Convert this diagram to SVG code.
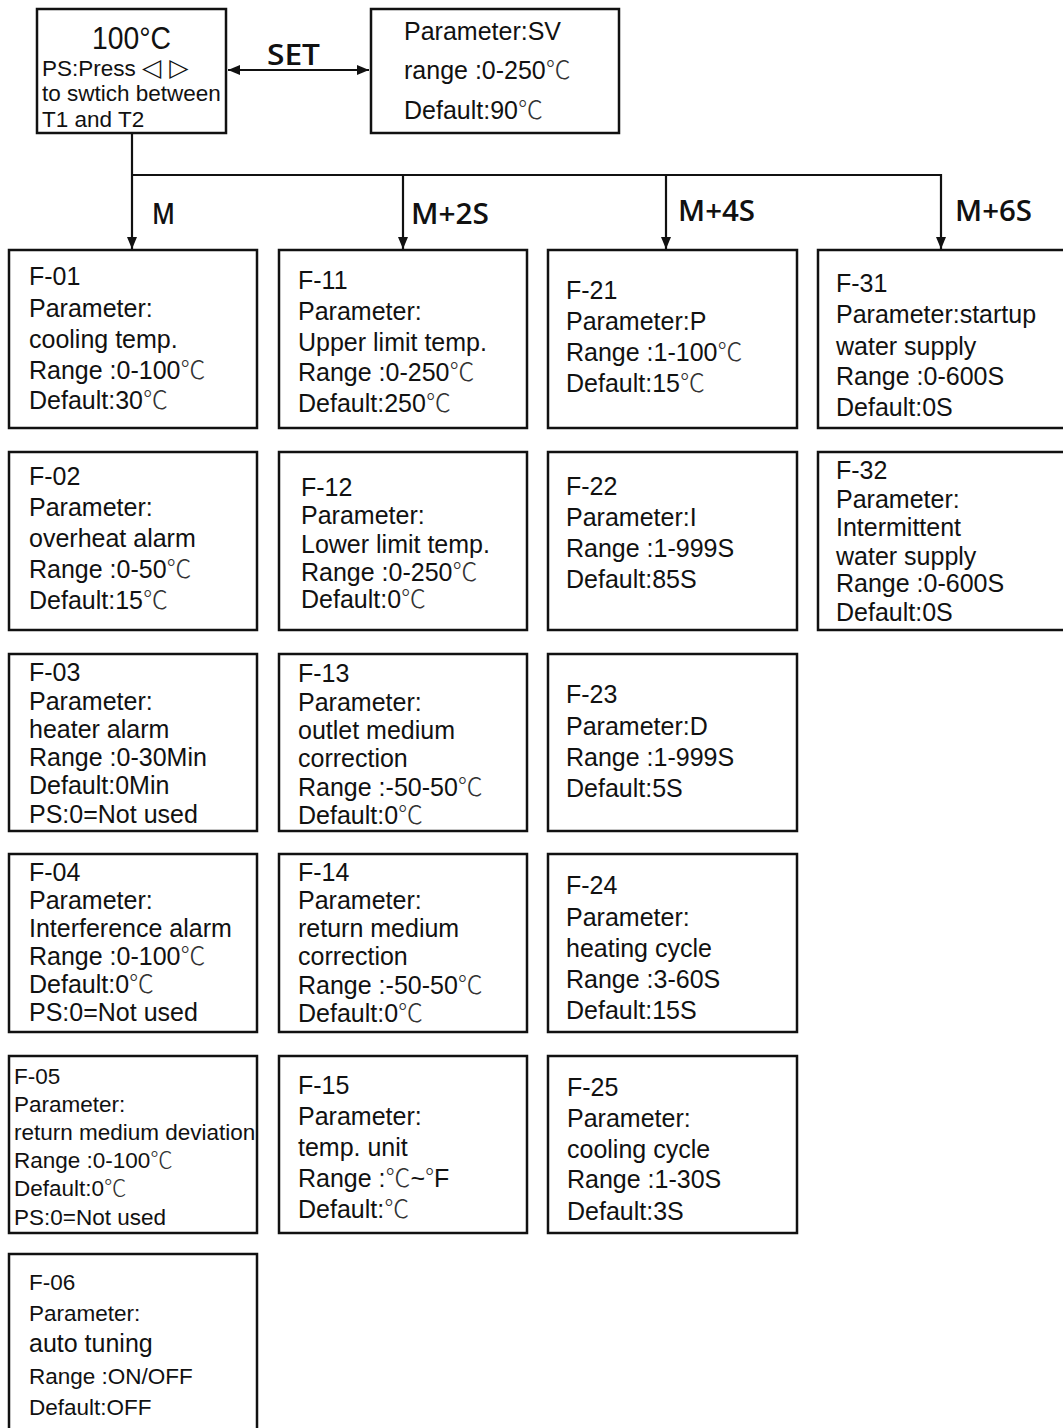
<svg xmlns="http://www.w3.org/2000/svg" width="1063" height="1428" viewBox="0 0 1063 1428">
<style>
.box{fill:#fff;stroke:#111;stroke-width:2.5}
.t{font-family:"Liberation Sans",Arial,sans-serif;font-size:25px;fill:#111}
.s{font-size:22.5px}
.c{font-family:"Noto Sans CJK SC","Liberation Sans",sans-serif;font-weight:300;fill:#333}
.lbl{font-family:"Open Sans","Noto Sans",sans-serif;font-size:29px;font-weight:600;fill:#111}
.ln{fill:none;stroke:#111;stroke-width:2.2}
</style>
<defs>
<marker id="ah" viewBox="0 0 12 10" refX="12" refY="5" markerWidth="12" markerHeight="10" markerUnits="userSpaceOnUse" orient="auto-start-reverse">
<path d="M0,0 L12,5 L0,10 z" fill="#111"/>
</marker>
</defs>
<rect width="1063" height="1428" fill="#fff"/>

<g id="connectors">
<line class="ln" x1="228" y1="70" x2="369" y2="70" marker-start="url(#ah)" marker-end="url(#ah)"/>
<polyline class="ln" points="132,133 132,249" marker-end="url(#ah)"/>
<polyline class="ln" points="132,175 941,175 941,249" marker-end="url(#ah)"/>
<line class="ln" x1="403" y1="175" x2="403" y2="249" marker-end="url(#ah)"/>
<line class="ln" x1="666" y1="175" x2="666" y2="249" marker-end="url(#ah)"/>
<text class="lbl" x="267" y="65" textLength="53" lengthAdjust="spacingAndGlyphs">SET</text>
<text class="lbl" x="152" y="224" textLength="23" lengthAdjust="spacingAndGlyphs">M</text>
<text class="lbl" x="411" y="224" textLength="78" lengthAdjust="spacingAndGlyphs">M+2S</text>
<text class="lbl" x="678" y="221" textLength="77" lengthAdjust="spacingAndGlyphs">M+4S</text>
<text class="lbl" x="955" y="221" textLength="77" lengthAdjust="spacingAndGlyphs">M+6S</text>
</g>

<g id="display">
<rect class="box" x="37" y="9" width="189" height="124"/>
<text class="t" x="92" y="49" style="font-size:31px" textLength="79" lengthAdjust="spacingAndGlyphs">100°C</text>
<text class="t s"><tspan x="42" y="76">PS:Press <tspan style="font-family:'DejaVu Sans';font-size:25px">◁ ▷</tspan></tspan><tspan x="42" y="101">to swtich between</tspan><tspan x="42" y="127">T1 and T2</tspan></text>
</g>

<g id="sv">
<rect class="box" x="371" y="9" width="248" height="124"/>
<text class="t"><tspan x="404" y="40">Parameter:SV</tspan><tspan x="404" y="79">range :0-250<tspan class="c">℃</tspan></tspan><tspan x="404" y="119">Default:90<tspan class="c">℃</tspan></tspan></text>
</g>

<g id="F-01">
<rect class="box" x="9" y="250" width="248" height="178"/>
<text class="t"><tspan x="29" y="285">F-01</tspan><tspan x="29" y="317">Parameter:</tspan><tspan x="29" y="348">cooling temp.</tspan><tspan x="29" y="379">Range :0-100<tspan class="c">℃</tspan></tspan><tspan x="29" y="409">Default:30<tspan class="c">℃</tspan></tspan></text>
</g>
<g id="F-11">
<rect class="box" x="279" y="250" width="248" height="178"/>
<text class="t"><tspan x="298" y="289">F-11</tspan><tspan x="298" y="320">Parameter:</tspan><tspan x="298" y="351">Upper limit temp.</tspan><tspan x="298" y="381">Range :0-250<tspan class="c">℃</tspan></tspan><tspan x="298" y="412">Default:250<tspan class="c">℃</tspan></tspan></text>
</g>
<g id="F-21">
<rect class="box" x="548" y="250" width="249" height="178"/>
<text class="t"><tspan x="566" y="299">F-21</tspan><tspan x="566" y="330">Parameter:P</tspan><tspan x="566" y="361">Range :1-100<tspan class="c">℃</tspan></tspan><tspan x="566" y="392">Default:15<tspan class="c">℃</tspan></tspan></text>
</g>
<g id="F-31">
<rect class="box" x="818" y="250" width="252" height="178"/>
<text class="t"><tspan x="836" y="292">F-31</tspan><tspan x="836" y="323">Parameter:startup</tspan><tspan x="836" y="355">water supply</tspan><tspan x="836" y="385">Range :0-600S</tspan><tspan x="836" y="416">Default:0S</tspan></text>
</g>

<g id="F-02">
<rect class="box" x="9" y="452" width="248" height="178"/>
<text class="t"><tspan x="29" y="485">F-02</tspan><tspan x="29" y="516">Parameter:</tspan><tspan x="29" y="547">overheat alarm</tspan><tspan x="29" y="578">Range :0-50<tspan class="c">℃</tspan></tspan><tspan x="29" y="609">Default:15<tspan class="c">℃</tspan></tspan></text>
</g>
<g id="F-12">
<rect class="box" x="279" y="452" width="248" height="178"/>
<text class="t"><tspan x="301" y="496">F-12</tspan><tspan x="301" y="524">Parameter:</tspan><tspan x="301" y="553">Lower limit temp.</tspan><tspan x="301" y="581">Range :0-250<tspan class="c">℃</tspan></tspan><tspan x="301" y="608">Default:0<tspan class="c">℃</tspan></tspan></text>
</g>
<g id="F-22">
<rect class="box" x="548" y="452" width="249" height="178"/>
<text class="t"><tspan x="566" y="495">F-22</tspan><tspan x="566" y="526">Parameter:I</tspan><tspan x="566" y="557">Range :1-999S</tspan><tspan x="566" y="588">Default:85S</tspan></text>
</g>
<g id="F-32">
<rect class="box" x="818" y="452" width="252" height="178"/>
<text class="t"><tspan x="836" y="479">F-32</tspan><tspan x="836" y="508">Parameter:</tspan><tspan x="836" y="536">Intermittent</tspan><tspan x="836" y="565">water supply</tspan><tspan x="836" y="592">Range :0-600S</tspan><tspan x="836" y="621">Default:0S</tspan></text>
</g>

<g id="F-03">
<rect class="box" x="9" y="654" width="248" height="177"/>
<text class="t"><tspan x="29" y="681">F-03</tspan><tspan x="29" y="710">Parameter:</tspan><tspan x="29" y="738">heater alarm</tspan><tspan x="29" y="766">Range :0-30Min</tspan><tspan x="29" y="794">Default:0Min</tspan><tspan x="29" y="823">PS:0=Not used</tspan></text>
</g>
<g id="F-13">
<rect class="box" x="279" y="654" width="248" height="177"/>
<text class="t"><tspan x="298" y="682">F-13</tspan><tspan x="298" y="711">Parameter:</tspan><tspan x="298" y="739">outlet medium</tspan><tspan x="298" y="767">correction</tspan><tspan x="298" y="796">Range :-50-50<tspan class="c">℃</tspan></tspan><tspan x="298" y="824">Default:0<tspan class="c">℃</tspan></tspan></text>
</g>
<g id="F-23">
<rect class="box" x="548" y="654" width="249" height="177"/>
<text class="t"><tspan x="566" y="703">F-23</tspan><tspan x="566" y="735">Parameter:D</tspan><tspan x="566" y="766">Range :1-999S</tspan><tspan x="566" y="797">Default:5S</tspan></text>
</g>

<g id="F-04">
<rect class="box" x="9" y="854" width="248" height="178"/>
<text class="t"><tspan x="29" y="881">F-04</tspan><tspan x="29" y="909">Parameter:</tspan><tspan x="29" y="937">Interference alarm</tspan><tspan x="29" y="965">Range :0-100<tspan class="c">℃</tspan></tspan><tspan x="29" y="993">Default:0<tspan class="c">℃</tspan></tspan><tspan x="29" y="1021">PS:0=Not used</tspan></text>
</g>
<g id="F-14">
<rect class="box" x="279" y="854" width="248" height="178"/>
<text class="t"><tspan x="298" y="881">F-14</tspan><tspan x="298" y="909">Parameter:</tspan><tspan x="298" y="937">return medium</tspan><tspan x="298" y="965">correction</tspan><tspan x="298" y="994">Range :-50-50<tspan class="c">℃</tspan></tspan><tspan x="298" y="1022">Default:0<tspan class="c">℃</tspan></tspan></text>
</g>
<g id="F-24">
<rect class="box" x="548" y="854" width="249" height="178"/>
<text class="t"><tspan x="566" y="894">F-24</tspan><tspan x="566" y="926">Parameter:</tspan><tspan x="566" y="957">heating cycle</tspan><tspan x="566" y="988">Range :3-60S</tspan><tspan x="566" y="1019">Default:15S</tspan></text>
</g>

<g id="F-05">
<rect class="box" x="9" y="1056" width="248" height="177"/>
<text class="t s"><tspan x="14" y="1084">F-05</tspan><tspan x="14" y="1112">Parameter:</tspan><tspan x="14" y="1140">return medium deviation</tspan><tspan x="14" y="1168">Range :0-100<tspan class="c">℃</tspan></tspan><tspan x="14" y="1196">Default:0<tspan class="c">℃</tspan></tspan><tspan x="14" y="1225">PS:0=Not used</tspan></text>
</g>
<g id="F-15">
<rect class="box" x="279" y="1056" width="248" height="177"/>
<text class="t"><tspan x="298" y="1094">F-15</tspan><tspan x="298" y="1125">Parameter:</tspan><tspan x="298" y="1156">temp. unit</tspan><tspan x="298" y="1187">Range :<tspan class="c">℃</tspan>~<tspan class="c">°</tspan>F</tspan><tspan x="298" y="1218">Default:<tspan class="c">℃</tspan></tspan></text>
</g>
<g id="F-25">
<rect class="box" x="548" y="1056" width="249" height="177"/>
<text class="t"><tspan x="567" y="1096">F-25</tspan><tspan x="567" y="1127">Parameter:</tspan><tspan x="567" y="1158">cooling cycle</tspan><tspan x="567" y="1188">Range :1-30S</tspan><tspan x="567" y="1220">Default:3S</tspan></text>
</g>

<g id="F-06">
<rect class="box" x="9" y="1254" width="248" height="180"/>
<text class="t"><tspan class="s" x="29" y="1290">F-06</tspan><tspan class="s" x="29" y="1321">Parameter:</tspan><tspan x="29" y="1352">auto tuning</tspan><tspan class="s" x="29" y="1384">Range :ON/OFF</tspan><tspan class="s" x="29" y="1415">Default:OFF</tspan></text>
</g>
</svg>
